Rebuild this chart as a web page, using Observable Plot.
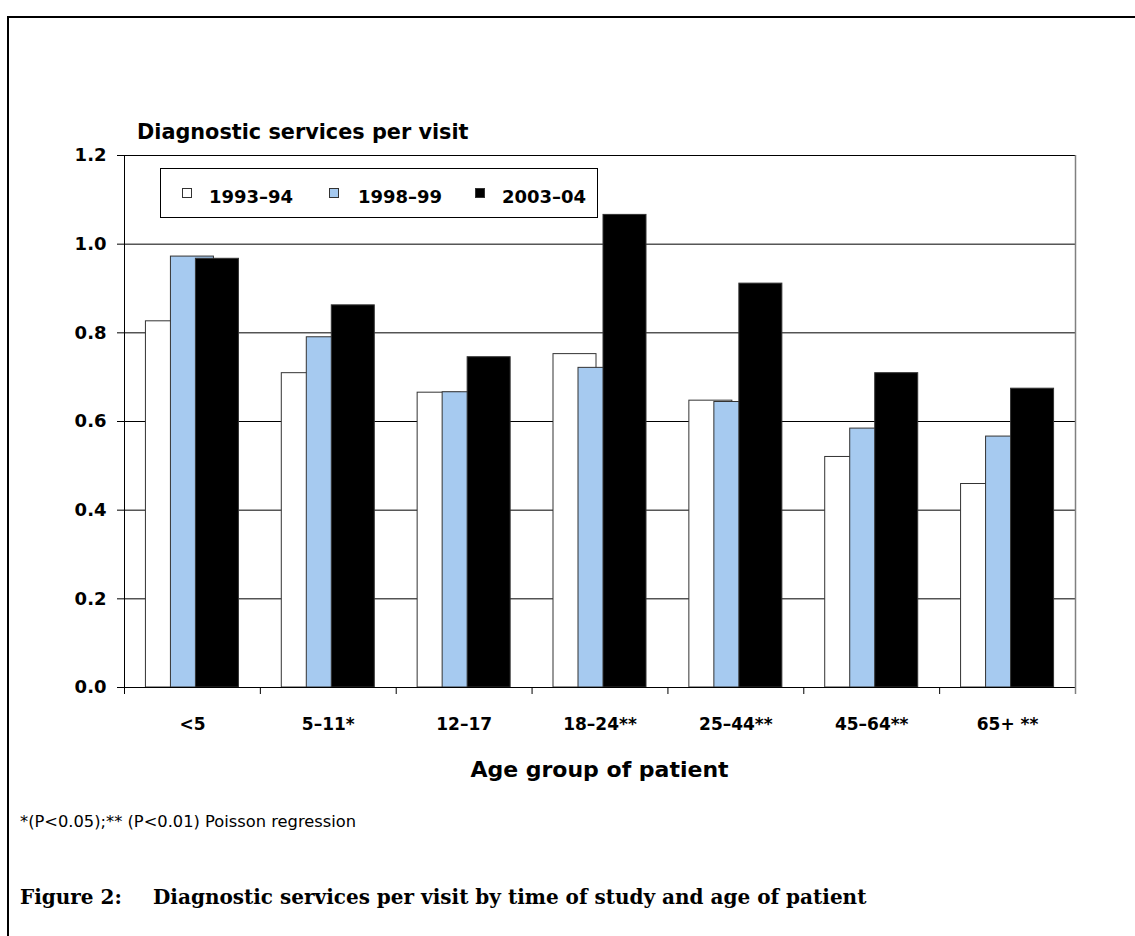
<!DOCTYPE html>
<html><head><meta charset="utf-8">
<script src="https://cdn.jsdelivr.net/npm/d3@7"></script>
<script src="https://cdn.jsdelivr.net/npm/@observablehq/plot@0.6"></script>
<style>
html,body{margin:0;padding:0;background:#fff;}
#page{position:relative;width:1135px;height:936px;overflow:hidden;background:#fff;font-family:"DejaVu Sans",sans-serif;color:#000;}
.frame{position:absolute;left:7px;top:16px;width:1200px;height:1000px;border-left:2px solid #000;border-top:2px solid #000;z-index:3;pointer-events:none;}
.t{position:absolute;white-space:nowrap;line-height:1;z-index:2;}
.legend{position:absolute;left:160px;top:168px;width:438px;height:50px;box-sizing:border-box;border:1px solid #000;background:#fff;z-index:2;}
.sw{position:absolute;width:10px;height:10px;box-sizing:border-box;border:1px solid #333;z-index:3;}
svg text{font-family:"DejaVu Sans",sans-serif;}
[aria-label^="x-axis"] text{font-size:17px;}
[aria-label^="y-axis"] text{font-size:18px;}
</style></head>
<body><div id="page"></div>
<script>
// ---- data ----
const ages = ["<5", "5–11*", "12–17", "18–24**", "25–44**", "45–64**", "65+ **"];
const seriesNames = ["1993–94", "1998–99", "2003–04"];
const v1993 = [0.826, 0.709, 0.665, 0.752, 0.647, 0.520, 0.459];
const v1998 = [0.972, 0.790, 0.666, 0.721, 0.644, 0.584, 0.566];
const v2003 = [0.967, 0.862, 0.745, 1.066, 0.911, 0.709, 0.674];
const yTicks = [0, 0.2, 0.4, 0.6, 0.8, 1.0, 1.2];
const colors = ["#ffffff", "#a6caf0", "#000000"];
const yTitle = "Diagnostic services per visit";
const xTitle = "Age group of patient";
const footnote = "*(P<0.05);** (P<0.01) Poisson regression";
const figLabel = "Figure 2:";
const figText = "Diagnostic services per visit by time of study and age of patient";

const seriesValues = [v1993, v1998, v2003];
const rows = seriesNames.flatMap((s, si) => ages.map((a, i) => ({age: a, series: s, value: seriesValues[si][i]})));

// ---- layout ----
const W = 1135, H = 800, mL = 124, mR = 60, mT = 155, mB = 113;
const bw = (W - mL - mR) / ages.length;
const barW = 43, step = 25;
const inset = (bw - barW) / 2;

const chart = Plot.plot({
  width: W, height: H,
  marginLeft: mL, marginRight: mR, marginTop: mT, marginBottom: mB,
  style: {background: "transparent", fontFamily: "DejaVu Sans", fontWeight: "bold", fontSize: "18px", color: "#000"},
  x: {domain: ages, padding: 0, round: false, label: null, tickSize: 0, tickPadding: 30},
  y: {domain: [0, 1.2], ticks: yTicks, tickFormat: d3.format(".1f"), tickSize: 7, tickPadding: 11, label: null},
  marks: [
    Plot.ruleY(yTicks, {stroke: "#000", strokeWidth: 1}),
    ...seriesNames.map((s, si) => Plot.barY(rows.filter(d => d.series === s), {
      x: "age", y: "value", fill: colors[si], stroke: "#333", strokeWidth: 1,
      insetLeft: inset, insetRight: inset, dx: (si - 1) * step
    })),
    Plot.ruleY([0], {stroke: "#000", strokeWidth: 1}),
    Plot.ruleX(ages.slice(1), {x: d => d, y1: () => 0, y2: () => 0, insetBottom: -7, dx: -bw / 2, stroke: "#000"}),
    Plot.ruleX(ages.slice(0, 1), {x: d => d, y1: () => 1.2, y2: () => 0, insetBottom: -7, dx: -bw / 2, stroke: "#000"}),
    Plot.ruleX(ages.slice(-1), {x: d => d, y1: () => 1.2, y2: () => 0, insetBottom: -7, dx: bw / 2, stroke: "#808080", strokeWidth: 1.5})
  ]
});
chart.style.position = "absolute";
chart.style.left = "0px";
chart.style.top = "0px";
chart.style.zIndex = "1";

const page = document.getElementById("page");
page.appendChild(chart);

const frame = document.createElement("div");
frame.className = "frame";
page.appendChild(frame);

function addText(txt, opts) {
  const el = document.createElement("div");
  el.className = "t";
  el.textContent = txt;
  Object.assign(el.style, opts);
  page.appendChild(el);
  return el;
}

// y title (baseline ~140)
addText(yTitle, {left: "137px", top: "122px", fontSize: "20.8px", fontWeight: "bold"});

// legend
const legend = document.createElement("div");
legend.className = "legend";
page.appendChild(legend);
const swX = [182, 329, 475], txX = [209, 358, 502];
seriesNames.forEach((s, si) => {
  const sw = document.createElement("div");
  sw.className = "sw";
  sw.style.left = swX[si] + "px";
  sw.style.top = "188px";
  sw.style.background = colors[si];
  page.appendChild(sw);
  addText(s, {left: txX[si] + "px", top: "188px", fontSize: "18px", fontWeight: "bold", zIndex: 3});
});

// x title centered on plot
addText(xTitle, {left: (mL + (W - mL - mR) / 2) + "px", top: "759px", fontSize: "22px", fontWeight: "bold", transform: "translateX(-50%)"});

// footnote
addText(footnote, {left: "20px", top: "814px", fontSize: "16.3px"});

// caption
const capStyle = {top: "887px", fontSize: "20px", fontWeight: "bold", fontFamily: "'DejaVu Serif', serif"};
addText(figLabel, Object.assign({left: "20px"}, capStyle));
addText(figText, Object.assign({left: "153px"}, capStyle));
</script>
</body></html>
